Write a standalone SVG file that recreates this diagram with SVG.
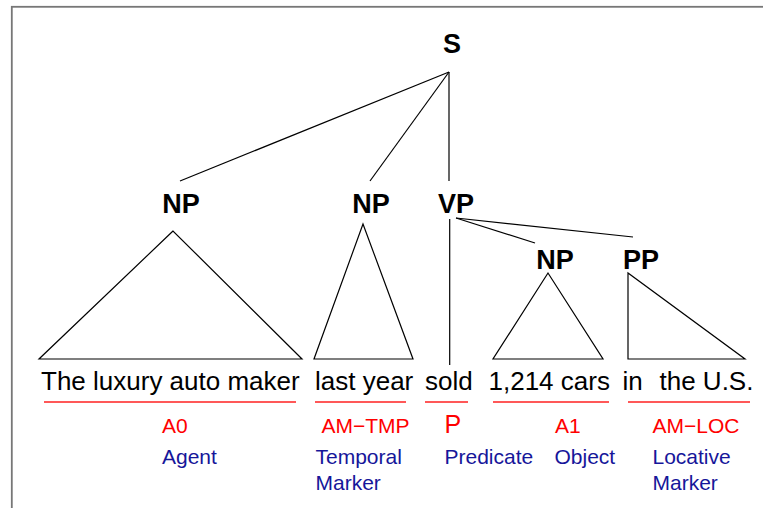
<svg xmlns="http://www.w3.org/2000/svg" width="763" height="508" viewBox="0 0 763 508">
<style>
.cat{font-family:"Liberation Sans",Arial,sans-serif;font-weight:bold;font-size:27px;fill:#000;text-anchor:middle}
.word{font-family:"Liberation Sans",Arial,sans-serif;font-size:26px;fill:#000}
.role{font-family:"Liberation Sans",Arial,sans-serif;font-size:21px;fill:#ff0000}
.desc{font-family:"Liberation Sans",Arial,sans-serif;font-size:21px;fill:#16169a}
.edge{stroke:#000;stroke-width:1.2;fill:none}
.tri{stroke:#000;stroke-width:1.2;fill:none;stroke-linejoin:miter}
.ul{stroke:#ff2020;stroke-width:1.3}
</style>
<rect x="0" y="0" width="763" height="508" fill="#fff"/>
<rect x="11.8" y="6.8" width="800" height="600" fill="none" stroke="#777" stroke-width="1.8"/>
<g id="connectors">
<line class="edge" x1="449" y1="72" x2="180" y2="181"/>
<line class="edge" x1="449" y1="72" x2="370" y2="181"/>
<line class="edge" x1="449" y1="72" x2="449" y2="181"/>
<line class="edge" x1="456" y1="218" x2="535" y2="243"/>
<line class="edge" x1="456" y1="218" x2="633" y2="237"/>
<line class="edge" x1="449.7" y1="219" x2="449.7" y2="365"/>
</g>
<g id="S"><text class="cat" x="452" y="53">S</text></g>
<g id="NP1"><text class="cat" x="181" y="213">NP</text>
<polygon class="tri" points="173,231 39,359 302,359"/></g>
<g id="NP2"><text class="cat" x="371" y="213">NP</text>
<polygon class="tri" points="363,224 314,359 413,359"/></g>
<g id="VP"><text class="cat" x="456" y="213">VP</text></g>
<g id="NP3"><text class="cat" x="555" y="268.5">NP</text>
<polygon class="tri" points="548,273 493,359 603,359"/></g>
<g id="PP"><text class="cat" x="641" y="268.5">PP</text>
<polygon class="tri" points="628,273 628,359 745,359"/></g>
<g id="words">
<text class="word" x="41" y="390">The luxury auto maker</text>
<text class="word" x="315" y="390">last year</text>
<text class="word" x="425" y="390">sold</text>
<text class="word" x="488.5" y="390">1,214 cars</text>
<text class="word" x="622.5" y="390">in</text>
<text class="word" x="659.5" y="390">the U.S.</text>
</g>
<g id="underlines">
<line class="ul" x1="44" y1="402" x2="296" y2="402"/>
<line class="ul" x1="315" y1="402" x2="406" y2="402"/>
<line class="ul" x1="425" y1="402" x2="468" y2="402"/>
<line class="ul" x1="493" y1="402" x2="609" y2="402"/>
<line class="ul" x1="628" y1="402" x2="750" y2="402"/>
</g>
<g id="roles">
<text class="role" x="162" y="433">A0</text>
<text class="role" x="321.5" y="433">AM−TMP</text>
<text class="role" x="444.5" y="433" style="font-size:25px">P</text>
<text class="role" x="555" y="433">A1</text>
<text class="role" x="652.5" y="433">AM−LOC</text>
</g>
<g id="descriptions">
<text class="desc" x="162" y="464">Agent</text>
<text class="desc" x="315.5" y="464">Temporal</text>
<text class="desc" x="315.5" y="490">Marker</text>
<text class="desc" x="444.5" y="464">Predicate</text>
<text class="desc" x="554.5" y="464">Object</text>
<text class="desc" x="652.5" y="464">Locative</text>
<text class="desc" x="652.5" y="490">Marker</text>
</g>
</svg>
